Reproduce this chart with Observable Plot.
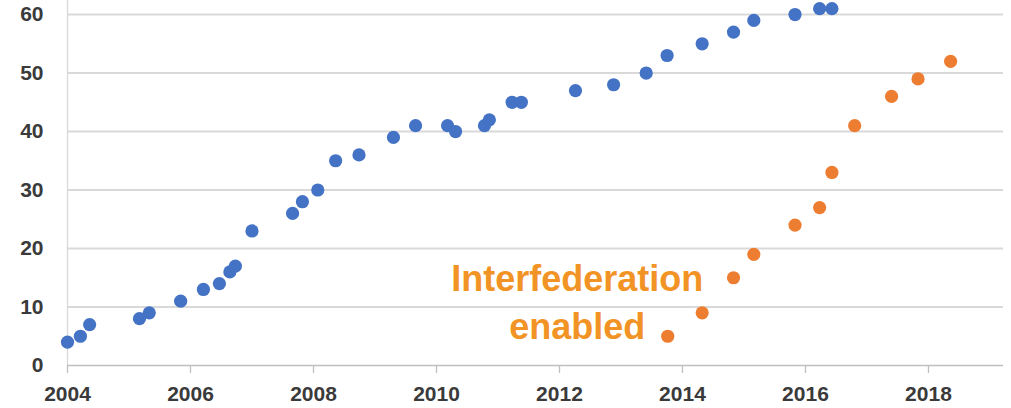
<!DOCTYPE html>
<html>
<head>
<meta charset="utf-8">
<script src="https://cdn.jsdelivr.net/npm/d3@7"></script>
<script src="https://cdn.jsdelivr.net/npm/@observablehq/plot@0.6"></script>
<style>
  html, body { margin: 0; padding: 0; background: #fff; }
</style>
</head>
<body>
<div id="chart"></div>
<script>
// Federations over time (blue) and interfederation-enabled (orange)
const blueYears = [2004.0, 2004.21, 2004.36, 2005.17, 2005.33, 2005.84, 2006.21, 2006.47, 2006.64, 2006.73,
  2007.0, 2007.66, 2007.82, 2008.07, 2008.36, 2008.74, 2009.3, 2009.66, 2010.18, 2010.31,
  2010.78, 2010.86, 2011.23, 2011.38, 2012.26, 2012.88, 2013.41, 2013.75, 2014.32, 2014.83,
  2015.16, 2015.83, 2016.23, 2016.43];
const blueValues = [4, 5, 7, 8, 9, 11, 13, 14, 16, 17,
  23, 26, 28, 30, 35, 36, 39, 41, 41, 40,
  41, 42, 45, 45, 47, 48, 50, 53, 55, 57,
  59, 60, 61, 61];

const orangeYears = [2013.76, 2014.32, 2014.83, 2015.16, 2015.83, 2016.23, 2016.43, 2016.8, 2017.4, 2017.83, 2018.36];
const orangeValues = [5, 9, 15, 19, 24, 27, 33, 41, 46, 49, 52];

const xTicks = [2004, 2006, 2008, 2010, 2012, 2014, 2016, 2018];
const yTicks = [0, 10, 20, 30, 40, 50, 60];
const yGrid = [10, 20, 30, 40, 50, 60];

const labelText = ["Interfederation\nenabled"];
const labelX = [2012.29];
const labelY = [11.2];

const blue = blueYears.map((x, i) => ({x, y: blueValues[i]}));
const orange = orangeYears.map((x, i) => ({x, y: orangeValues[i]}));
const labels = labelText.map((t, i) => ({t, x: labelX[i], y: labelY[i]}));

const chart = Plot.plot({
  width: 1011,
  height: 408,
  marginLeft: 67,
  marginRight: 8,
  marginTop: 0,
  marginBottom: 43,
  x: {domain: [2004, 2019.22], label: null},
  y: {domain: [0, 62.4], label: null},
  style: {fontFamily: "'Liberation Sans', Arial, sans-serif", fontWeight: "bold", background: "#fff", overflow: "hidden"},
  marks: [
    Plot.ruleY(yGrid, {stroke: "#d9d9d9", strokeWidth: 2}),
    Plot.ruleX([2004], {stroke: "#d9d9d9", strokeWidth: 1.3}),
    Plot.axisX({ticks: xTicks, tickSize: 8, text: null, stroke: "#bfbfbf", strokeWidth: 1.3}),
    Plot.ruleY([0], {stroke: "#bfbfbf", strokeWidth: 1.5}),
    Plot.axisX({ticks: xTicks, tickSize: 0, tickPadding: 21, tickFormat: d => String(d), fontSize: 21, fill: "#3a3a3a", fontWeight: "bold"}),
    Plot.axisY({ticks: yTicks, tickSize: 0, tickPadding: 24, fontSize: 21, fill: "#3a3a3a", fontWeight: "bold"}),
    Plot.dot(blue, {x: "x", y: "y", r: 6.6, fill: "#4472C4", stroke: null}),
    Plot.dot(orange, {x: "x", y: "y", r: 6.6, fill: "#ED7D31", stroke: null}),
    Plot.text(labels, {x: "x", y: "y", text: "t", fill: "#F29325", fontSize: 36, fontWeight: "bold", lineHeight: 1.33, textAnchor: "middle"})
  ]
});
document.getElementById("chart").appendChild(chart);
</script>
</body>
</html>
